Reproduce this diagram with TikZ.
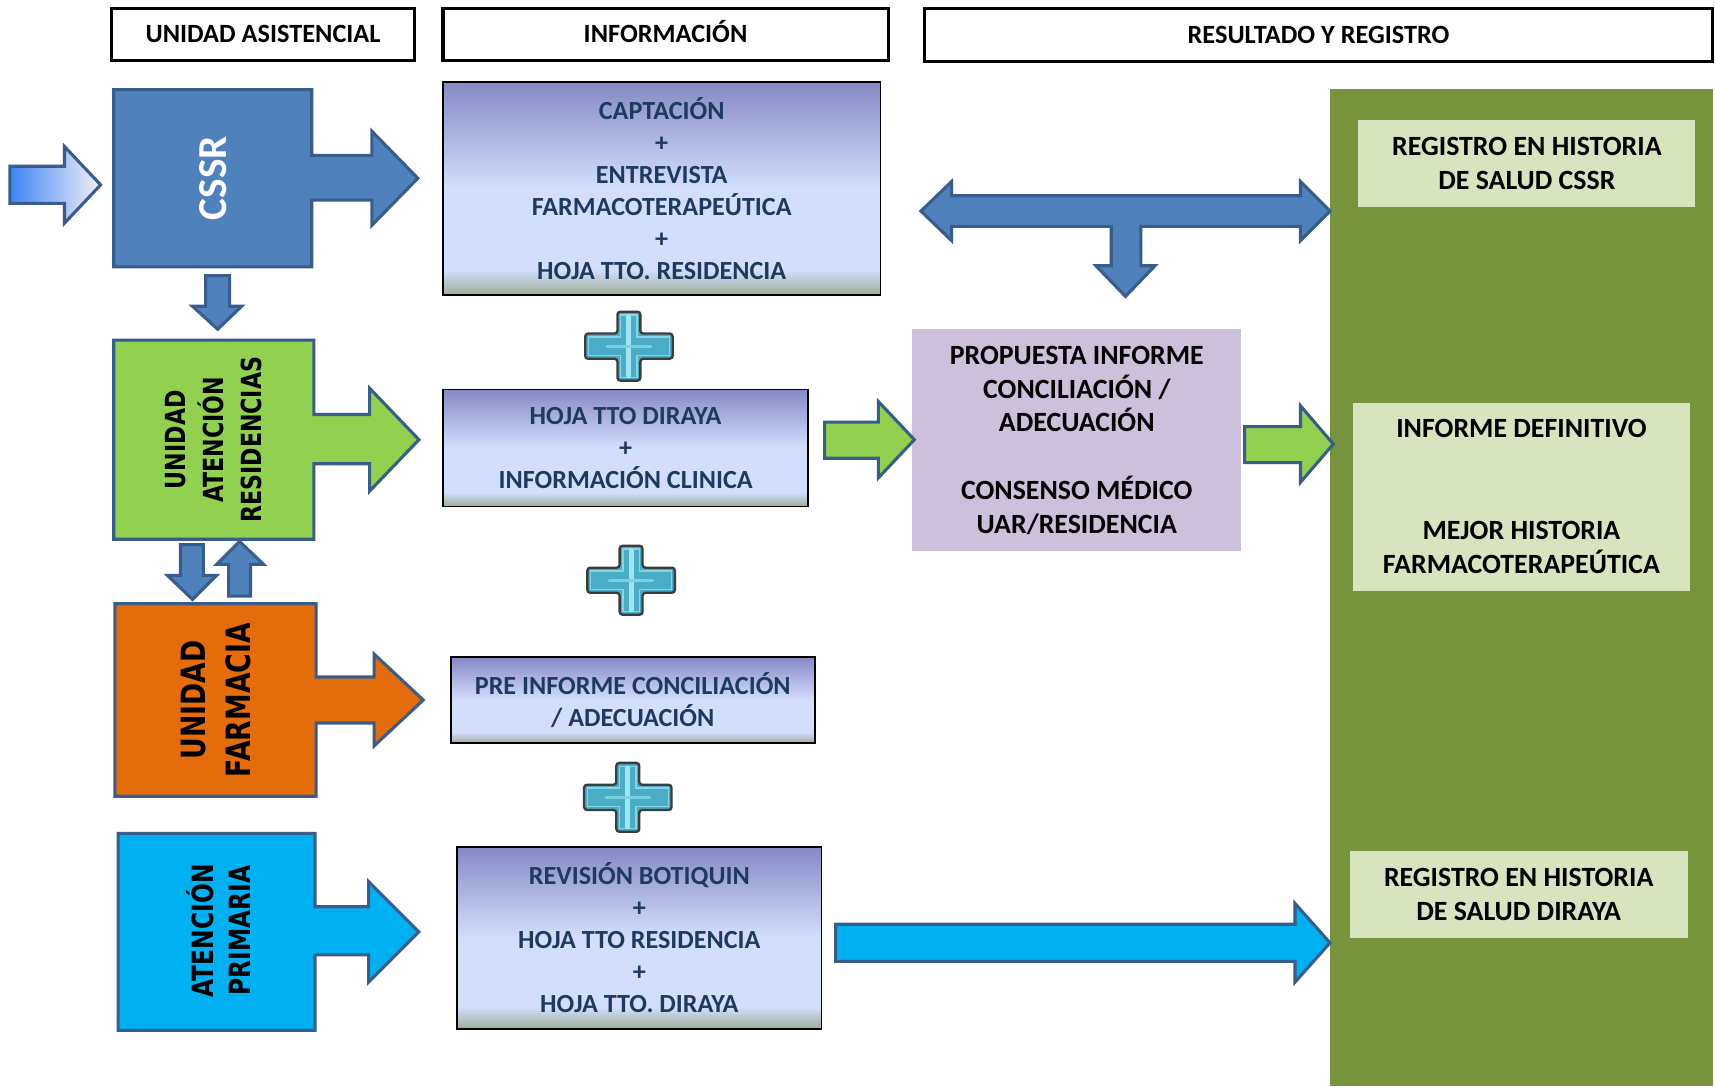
\documentclass[tikz,border=0pt]{standalone}
\usepackage{fontspec}
\setmainfont{Carlito}
\newfontfamily\widefont[FakeStretch=0.8]{DejaVu Sans}
\definecolor{cssrblue}{HTML}{4F81BD}
\definecolor{edgeblue}{HTML}{385D8A}
\definecolor{uargreen}{HTML}{92D050}
\definecolor{uforange}{HTML}{E46C0A}
\definecolor{apblue}{HTML}{00B0F0}
\definecolor{panelgreen}{HTML}{77933C}
\definecolor{lightgreen}{HTML}{D7E4BD}
\definecolor{lavbox}{HTML}{CCC0DA}
\definecolor{navytext}{HTML}{1F3A60}
\definecolor{infotop}{HTML}{8689C5}
\definecolor{infomid}{HTML}{D3DEFD}
\definecolor{infobot}{HTML}{9DAE98}
\definecolor{crossteal}{HTML}{4BACC6}
\definecolor{crosslight}{HTML}{9FE6F4}
\definecolor{crossedge}{HTML}{3C3C3C}
\definecolor{inleft}{HTML}{3F84F2}
\definecolor{inright}{HTML}{F4F0F8}
\pgfdeclareverticalshading{infoshade}{100bp}{color(0bp)=(infobot); color(25bp)=(infobot); color(31bp)=(infomid); color(50bp)=(infomid); color(75bp)=(infotop); color(100bp)=(infotop)}
\tikzset{
  hdr/.style={draw=black, line width=1.6pt, fill=white, inner sep=0pt, outer sep=0pt,
    text height=8.8pt, text depth=0pt, font=\fontsize{13.7}{16}\selectfont\bfseries},
  info/.style={draw=black, line width=0.9pt, shade, shading=infoshade, inner sep=0pt, outer sep=0pt,
    align=center, text=navytext, font=\fontsize{13.6}{16.6}\selectfont\bfseries},
  rbox/.style={fill=lightgreen, inner sep=0pt, outer sep=0pt, align=center, text=black,
    font=\fontsize{14.5}{17.6}\selectfont\bfseries},
  blockarrow/.style={draw=edgeblue, line width=1.6pt, line join=miter},
  rottext/.style={rotate=90, align=center, inner sep=0pt},
  crossshape/.style={fill=crossteal, draw=crossedge, line width=1.2pt, rounded corners=1.5pt}
}
\newcommand{\crossat}[3]{%
  \begin{scope}[shift={(#1,#2)}]
    \path[crossshape] (-10.5,-31.5) -- (10.5,-31.5) -- (10.5,-11.5) -- (40,-11.5) -- (40,11.5) -- (10.5,11.5)
      -- (10.5,31.5) -- (-10.5,31.5) -- (-10.5,11.5) -- (-40,11.5) -- (-40,-11.5) -- (-10.5,-11.5) -- cycle;
    \draw[crosslight!70!crossteal, line width=0.7pt] (-7.5,-28.5) -- (7.5,-28.5) -- (7.5,-8.5) -- (37,-8.5) -- (37,8.5) -- (7.5,8.5)
      -- (7.5,28.5) -- (-7.5,28.5) -- (-7.5,8.5) -- (-37,8.5) -- (-37,-8.5) -- (-7.5,-8.5) -- cycle;
    \draw[crosslight, line width=2.6pt, line cap=round] (0,-27) -- (0,27);
    \draw[crosslight!60!crossteal, line width=1.6pt, line cap=round] (-20,0) -- (20,0);
    \coordinate (#3) at (0,0);
  \end{scope}}
\begin{document}
\begin{tikzpicture}[x=0.02cm, y=-0.02cm]
\useasboundingbox (0,0) rectangle (1568,993);
\fill[white] (0,0) rectangle (1568,993);

% headers
\node[hdr, minimum width=5.54cm, minimum height=0.94cm] (h1) at (240.5,31.5) {UNIDAD ASISTENCIAL};
\node[hdr, minimum width=8.14cm, minimum height=0.94cm] (h2) at (608.5,31.5) {INFORMACIÓN};
\node[hdr, minimum width=14.42cm, minimum height=0.96cm] (h3) at (1205.5,32) {RESULTADO Y REGISTRO};

% right green panel
\node[fill=panelgreen, inner sep=0pt, minimum width=7.0cm, minimum height=18.24cm] (panel) at (1391,537) {};

\node[rbox, minimum width=6.16cm, minimum height=1.58cm] (r1) at (1396,149.5) {REGISTRO EN HISTORIA\\DE SALUD CSSR};
\node[rbox, minimum width=6.16cm, minimum height=3.44cm] (r2) at (1391,454) {INFORME DEFINITIVO\\[35.2pt]MEJOR HISTORIA\\FARMACOTERAPEÚTICA};
\node[rbox, minimum width=6.18cm, minimum height=1.6cm] (r3) at (1388.5,818) {REGISTRO EN HISTORIA\\DE SALUD DIRAYA};

% left unit shapes
\path[blockarrow, fill=cssrblue] (104,82) -- (285,82) -- (285,142) -- (340,142) -- (340,120) -- (382,163) -- (340,206) -- (340,183) -- (285,183) -- (285,244) -- (104,244) -- cycle;
\node[rottext, text=white, font=\fontsize{21.4}{24}\selectfont\bfseries] (cssr) at (194.5,163) {CSSR};

\path[blockarrow, fill=uargreen] (104,311) -- (287,311) -- (287,379) -- (338,379) -- (338,355) -- (383,402) -- (338,449) -- (338,424) -- (287,424) -- (287,493) -- (104,493) -- cycle;
\node[rottext, font=\widefont\bfseries\fontsize{14.4}{19.8}\selectfont] (uar) at (195.5,402) {UNIDAD\\ATENCIÓN\\RESIDENCIAS};

\path[blockarrow, fill=uforange] (105,552) -- (289,552) -- (289,619) -- (342,619) -- (342,598) -- (387,640) -- (342,682) -- (342,661) -- (289,661) -- (289,728) -- (105,728) -- cycle;
\node[rottext, font=\widefont\bfseries\fontsize{17.4}{23.3}\selectfont] (uf) at (197.5,640) {UNIDAD\\FARMACIA};

\path[blockarrow, fill=apblue] (108,762) -- (288,762) -- (288,829) -- (337,829) -- (337,806) -- (383,852) -- (337,898) -- (337,873) -- (288,873) -- (288,942) -- (108,942) -- cycle;
\node[rottext, font=\widefont\bfseries\fontsize{15.2}{19}\selectfont] (ap) at (199.5,851) {ATENCIÓN\\PRIMARIA};

% input arrow
\path[blockarrow, left color=inleft, right color=inright] (9,152) -- (59,152) -- (59,134) -- (92,169) -- (59,204) -- (59,186) -- (9,186) -- cycle;

% vertical arrows between units
\path[blockarrow, fill=cssrblue] (188,252) -- (210,252) -- (210,280) -- (221,280) -- (199,301) -- (176,280) -- (188,280) -- cycle;
\path[blockarrow, fill=cssrblue] (165,498) -- (186,498) -- (186,526) -- (198,526) -- (176,548) -- (153,526) -- (165,526) -- cycle;
\path[blockarrow, fill=cssrblue] (209,545) -- (229,545) -- (229,516) -- (241,516) -- (219,495) -- (198,516) -- (209,516) -- cycle;

% information boxes
\node[info, minimum width=8.0cm, minimum height=3.9cm] (i1) at (605,172.5) {CAPTACIÓN\\+\\ENTREVISTA\\FARMACOTERAPEÚTICA\\+\\HOJA TTO. RESIDENCIA};
\node[info, minimum width=6.68cm, minimum height=2.14cm] (i2) at (572,409.5) {HOJA TTO DIRAYA\\+\\INFORMACIÓN CLINICA};
\node[info, minimum width=6.66cm, minimum height=1.56cm] (i3) at (578.5,640) {PRE INFORME CONCILIACIÓN\\/ ADECUACIÓN};
\node[info, minimum width=6.66cm, minimum height=3.32cm] (i4) at (584.5,857.5) {REVISIÓN BOTIQUIN\\+\\HOJA TTO RESIDENCIA\\+\\HOJA TTO. DIRAYA};

% plus signs
\crossat{575}{316.5}{p1}
\crossat{577}{530.5}{p2}
\crossat{574}{729}{p3}

% proposal box
\node[fill=lavbox, inner sep=0pt, minimum width=6.02cm, minimum height=4.06cm, align=center,
  font=\fontsize{14.5}{17.6}\selectfont\bfseries] (prop) at (984.5,402.5)
  {PROPUESTA INFORME\\CONCILIACIÓN /\\ADECUACIÓN\\[17.6pt]CONSENSO MÉDICO\\UAR/RESIDENCIA};

% T-shaped double arrow
\path[blockarrow, fill=cssrblue] (842,193) -- (870,166) -- (870,179) -- (1189,179) -- (1189,166) -- (1216,193) -- (1189,220) -- (1189,207)
  -- (1043,207) -- (1043,243) -- (1056,243) -- (1029,271) -- (1002,243) -- (1016,243) -- (1016,207) -- (870,207) -- (870,220) -- cycle;

% green arrows
\path[blockarrow, fill=uargreen] (754,386) -- (803,386) -- (803,367) -- (836,402) -- (803,437) -- (803,419) -- (754,419) -- cycle;
\path[blockarrow, fill=uargreen] (1138,390) -- (1189,390) -- (1189,371) -- (1219,406) -- (1189,441) -- (1189,423) -- (1138,423) -- cycle;

% long blue arrow
\path[blockarrow, fill=apblue] (764,845) -- (1184,845) -- (1184,826) -- (1216,862) -- (1184,898) -- (1184,879) -- (764,879) -- cycle;
\end{tikzpicture}
\end{document}
